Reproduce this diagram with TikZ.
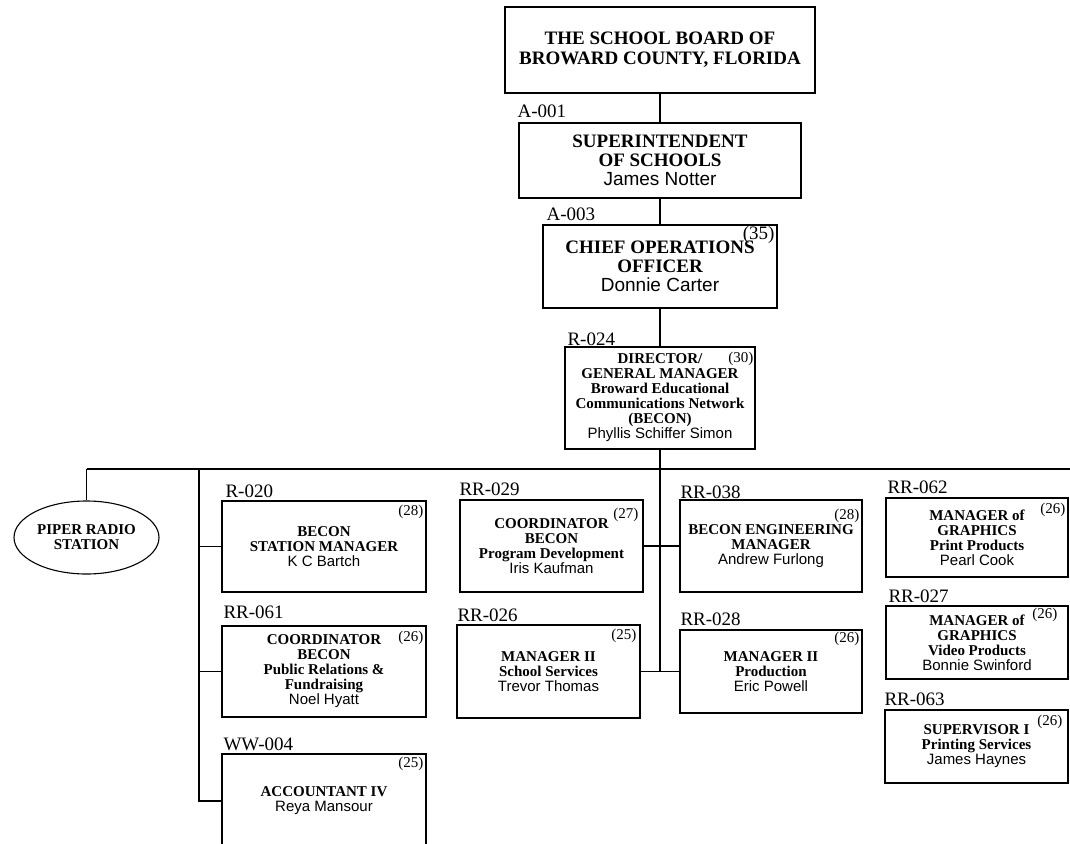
\documentclass[tikz,border=0pt]{standalone}
\usepackage{fontspec}
\setmainfont{Liberation Serif}
\setsansfont{Liberation Sans}
\usetikzlibrary{shapes.geometric}
\newcommand{\who}[1]{{\sffamily\mdseries #1}}

\begin{document}
\begin{tikzpicture}
  [x=1pt, y=-1pt, line width=1.1pt,
   post/.style={draw, rectangle, align=center, inner sep=0pt,
     font=\bfseries\fontsize{15}{15}\selectfont},
   big/.style={post, font=\bfseries\fontsize{19}{19}\selectfont},
   code/.style={anchor=base west, inner sep=0pt, font=\fontsize{19}{19}\selectfont},
   grade/.style={anchor=base east, inner sep=0pt, font=\fontsize{15}{15}\selectfont}]
  \useasboundingbox (0,0) rectangle (1070,843);
  \clip (0,0) rectangle (1070,843);

  \node[big, font=\bfseries\fontsize{19}{20}\selectfont, minimum width=310pt, minimum height=86pt]
    (board) at (660,50) {THE SCHOOL BOARD OF\\BROWARD COUNTY, FLORIDA};
  \node[big, minimum width=282pt, minimum height=75pt] (supt) at (660,160.5)
    {SUPERINTENDENT\\OF SCHOOLS\\\who{James Notter}};
  \node[big, minimum width=234pt, minimum height=83pt] (coo) at (660,266.5)
    {CHIEF OPERATIONS\\OFFICER\\\who{Donnie Carter}};
  \node[post, minimum width=190pt, minimum height=102pt] (dir) at (660,398)
    {DIRECTOR/\\GENERAL MANAGER\\Broward Educational\\Communications Network\\(BECON)\\\who{Phyllis Schiffer Simon}};

  \node[ellipse, draw, inner sep=0pt, minimum width=145pt, minimum height=73pt, align=center,
    font=\bfseries\fontsize{15}{15}\selectfont] (piper) at (86.5,537.5) {PIPER RADIO\\STATION};

  \node[post, minimum width=204pt, minimum height=91pt] (stn) at (324,546.5)
    {BECON\\STATION MANAGER\\\who{K C Bartch}};
  \node[post, minimum width=204pt, minimum height=91pt] (pr) at (324,671.5)
    {COORDINATOR\\BECON\\Public Relations \&\\Fundraising\\\who{Noel Hyatt}};
  \node[post, minimum width=204pt, minimum height=94pt] (acct) at (324,801)
    {ACCOUNTANT IV\\\who{Reya Mansour}};

  \node[post, minimum width=183pt, minimum height=92pt] (prog) at (551.5,546)
    {COORDINATOR\\BECON\\Program Development\\\who{Iris Kaufman}};
  \node[post, minimum width=183pt, minimum height=93pt] (school) at (548.5,671.5)
    {MANAGER II\\School Services\\\who{Trevor Thomas}};
  \node[post, minimum width=182pt, minimum height=92pt] (eng) at (771,546)
    {BECON ENGINEERING\\MANAGER\\\who{Andrew Furlong}};
  \node[post, minimum width=182pt, minimum height=83pt] (prod) at (771,671.5)
    {MANAGER II\\Production\\\who{Eric Powell}};

  \node[post, minimum width=182pt, minimum height=79pt] (print) at (977,537.5)
    {MANAGER of\\GRAPHICS\\Print Products\\\who{Pearl Cook}};
  \node[post, minimum width=182pt, minimum height=73pt] (video) at (977,642.5)
    {MANAGER of\\GRAPHICS\\Video Products\\\who{Bonnie Swinford}};
  \node[post, minimum width=183pt, minimum height=73pt] (printsv) at (976.5,746.5)
    {SUPERVISOR I\\Printing Services\\\who{James Haynes}};

  % position codes
  \foreach \name/\x/\y/\txt in {l001/517/117/A-001, l003/546/220/A-003, l024/567/345/R-024,
      l020/225/497/R-020, l061/223/618/RR-061, l004/223/750/WW-004,
      l029/459/495/RR-029, l026/457/621/RR-026, l038/680/498/RR-038, l028/680/625/RR-028,
      l062/887/493/RR-062, l027/888/602/RR-027, l063/884/705/RR-063}
    \node[code] (\name) at (\x,\y) {\txt};

  % pay grades
  \node[grade, font=\fontsize{19}{19}\selectfont] (g35) at (775,239) {(35)};
  \foreach \name/\x/\y/\txt in {g30/754/362/(30), g020/424/515/(28), g061/424/641/(26),
      g004/424/767/(25), g029/639/518/(27), g026/637/639/(25), g038/860/519/(28),
      g028/860/642/(26), g062/1066/513/(26), g027/1058/618/(26), g063/1063/725/(26)}
    \node[grade] (\name) at (\x,\y) {\txt};

  \coordinate (busL) at (86.5,469);
  \coordinate (busR) at (1070,469);
  \coordinate (spine) at (199,469);
  \coordinate (hub) at (660,672);

  \foreach \from/\to in {board/supt, supt/coo, coo/dir, prog/eng, school/prod}
    \draw (\from) -- (\to);
  \draw (busL) -- (busR);
  \draw (busL) -- (piper);
  \draw (dir) -- (hub);
  \draw (spine) |- (acct.west);
  \foreach \to in {stn, pr}
    \draw (spine |- \to.west) -- (\to.west);

\end{tikzpicture}
\end{document}
